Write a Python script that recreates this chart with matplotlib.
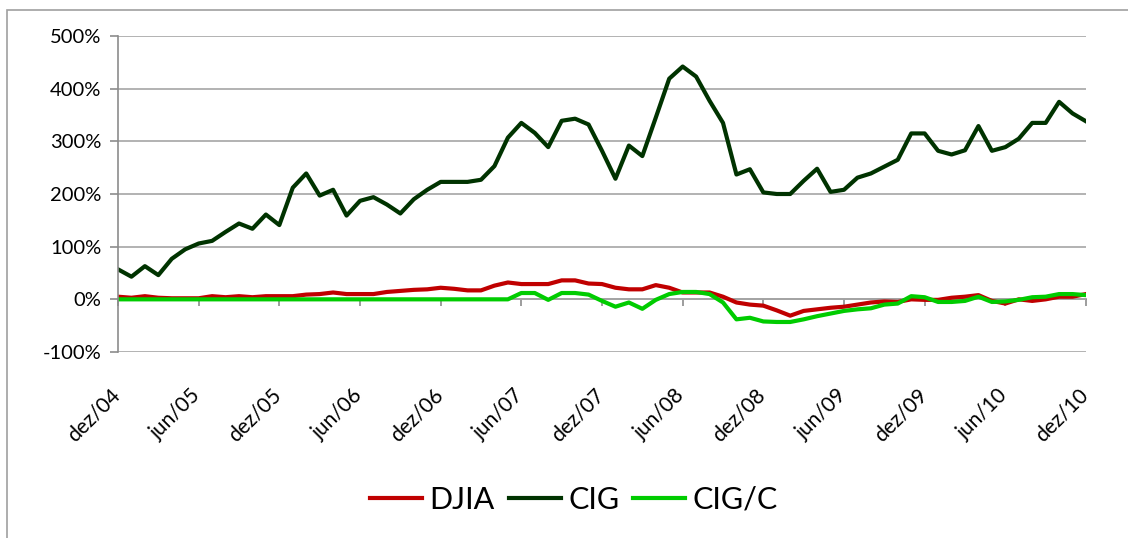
import matplotlib.pyplot as plt
import matplotlib.ticker as mticker
from matplotlib.patches import Rectangle
from matplotlib.transforms import ScaledTranslation

plt.rcParams['font.family'] = ['Lato', 'DejaVu Sans']

# monthly, dez/04 .. dez/10 (73 points), cumulative return in %
djia = [5, 3, 6, 3, 2, 2, 2, 6, 4, 6, 4, 6, 6, 6, 9, 10, 13, 10, 10, 10,
        14, 16, 18, 19, 22, 20, 17, 17, 26, 32, 29, 29, 29, 36, 36, 30, 29,
        22, 19, 19, 27, 22, 13, 13, 13, 5, -6, -10, -12, -21, -31, -22, -19,
        -16, -14, -10, -6, -4, -5, 0, -1, -1, 3, 5, 8, -3, -8, 0, -3, 0, 5, 5, 10]
cig = [57, 43, 63, 46, 77, 95, 106, 111, 128, 144, 134, 161, 141, 212, 239,
       197, 208, 159, 187, 194, 180, 163, 190, 208, 223, 223, 223, 227, 253,
       307, 335, 316, 289, 339, 343, 332, 282, 229, 292, 272, 345, 419, 442,
       423, 377, 335, 237, 247, 203, 200, 200, 225, 248, 204, 208, 231, 239,
       252, 265, 315, 315, 282, 275, 283, 329, 282, 289, 305, 335, 335, 375,
       353, 338]
cigc = [0] * 30 + [12, 12, -1, 12, 12, 9, -3, -14, -6, -18, -1, 10, 14, 14,
                   10, -6, -38, -35, -42, -43, -43, -38, -32, -27, -22, -19,
                   -17, -10, -8, 6, 4, -5, -5, -3, 5, -5, -4, -1, 4, 5, 10, 10, 8]

tick_labels = ['dez/04', 'jun/05', 'dez/05', 'jun/06', 'dez/06', 'jun/07',
               'dez/07', 'jun/08', 'dez/08', 'jun/09', 'dez/09', 'jun/10', 'dez/10']

x = list(range(len(cig)))
grey = '#8c8c8c'

fig = plt.figure(figsize=(11.28, 5.38), dpi=100)
fig.patches.append(Rectangle((7 / 1128, -0.5), 2, 1.5 - 10 / 538, transform=fig.transFigure,
                             fill=False, edgecolor='#a0a0a0', linewidth=1.2))
ax = fig.add_axes([118 / 1128, 1 - 352 / 538, (1086 - 118) / 1128, (352 - 36) / 538])

ax.plot(x, djia, color='#c00000', lw=3.0, label='DJIA', solid_joinstyle='round')
ax.plot(x, cig, color='#003300', lw=3.0, label='CIG', solid_joinstyle='round')
ax.plot(x, cigc, color='#00cc00', lw=3.0, label='CIG/C', solid_joinstyle='round')

ax.set_xlim(0, len(cig) - 1)
ax.set_ylim(-100, 500)
ax.set_yticks(range(-100, 501, 100))
ax.yaxis.set_major_formatter(mticker.FuncFormatter(lambda v, p: f'{int(v)}%'))
ax.grid(axis='y', color='#a6a6a6', lw=1.2)
ax.set_axisbelow(True)

for s in ['top', 'right', 'bottom']:
    ax.spines[s].set_visible(False)
ax.spines['left'].set_color(grey)
ax.spines['left'].set_linewidth(1.2)
ax.tick_params(axis='y', colors=grey, length=6, width=1.2, labelcolor='black',
               labelsize=14.5, pad=6)

# labels at the bottom, tick marks on the 0% line
ax.set_xticks(range(0, len(cig), 6))
ax.set_xticklabels(tick_labels, rotation=45, ha='right', va='top', rotation_mode='anchor',
                   fontsize=15)
ax.tick_params(axis='x', length=0, pad=24)
shift = ScaledTranslation(-8 / 100, 0, fig.dpi_scale_trans)
for lab in ax.get_xticklabels():
    lab.set_transform(lab.get_transform() + shift)
sec = ax.secondary_xaxis(1 / 6)
sec.set_xticks(range(0, len(cig), 6))
sec.set_xticklabels([])
sec.spines['bottom'].set_color(grey)
sec.spines['bottom'].set_linewidth(1.2)
sec.tick_params(axis='x', colors=grey, length=5, width=1.2)

fig.legend(loc='center', bbox_to_anchor=(574 / 1128, 1 - 500 / 538), ncol=3, frameon=False,
           fontsize=22, handlelength=1.7, handletextpad=0.25, columnspacing=0.45)

fig.savefig('out.png', dpi=100, facecolor='white')
